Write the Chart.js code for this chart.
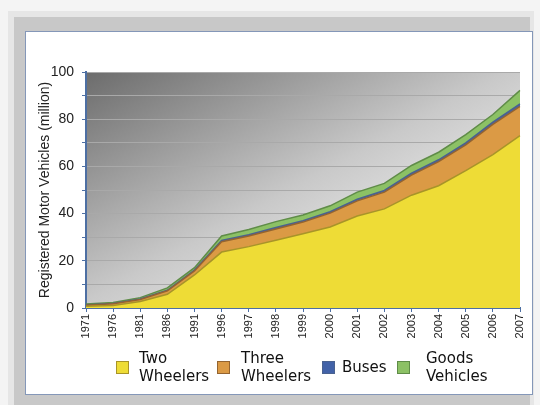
<!DOCTYPE html>
<html>
<head>
<meta charset="utf-8">
<script src="https://cdn.jsdelivr.net/npm/chart.js@4"></script>
<style>
  body { margin: 0; background: #f4f4f4; width: 540px; height: 405px; overflow: hidden; position: relative; font-family: 'DejaVu Sans', sans-serif; }
  #frame1 { position: absolute; left: 8px; top: 11px; width: 526px; height: 394px; background: #e6e6e6; }
  #frame2 { position: absolute; left: 14px; top: 17px; width: 516px; height: 388px; background: #c8c8c8; }
  #box { position: absolute; left: 25px; top: 31px; width: 506px; height: 362px; background: #fff; border: 1px solid #8497b8; }
  #myChart { position: absolute; left: 0; top: 0; }
  .leg { position: absolute; top: 349px; font-size: 15px; line-height: 18px; color: #111; }
  .sw { position: absolute; top: 361px; width: 11px; height: 11px; border: 1px solid; }
</style>
</head>
<body>
<div id="frame1"></div>
<div id="frame2"></div>
<div id="box"></div>
<canvas id="myChart" width="540" height="405"></canvas>
<div id="legend"></div>
<script>
var years = ['1971', '1976', '1981', '1986', '1991', '1996', '1997', '1998', '1999',
             '2000', '2001', '2002', '2003', '2004', '2005', '2006', '2007'];

var twoWheelers   = [0.7, 1.1, 2.8, 5.8, 14.0, 23.7, 26.0, 28.7, 31.5, 34.3, 39.0, 42.0, 47.8, 51.8, 58.2, 65.0, 73.0];
var threeWheelers = [0.5, 0.7, 0.8, 1.5, 1.7, 4.4, 4.5, 4.8, 4.9, 5.9, 6.4, 7.1, 8.5, 10.2, 10.9, 12.8, 12.4];
var buses         = [0.1, 0.1, 0.2, 0.2, 0.4, 0.5, 0.5, 0.6, 0.6, 0.6, 0.7, 0.7, 0.8, 0.8, 0.9, 1.0, 1.1];
var goodsVehicles = [0.4, 0.4, 0.6, 1.0, 1.0, 1.9, 2.3, 2.5, 2.4, 2.5, 3.0, 3.0, 3.3, 3.2, 3.5, 3.2, 5.7];

var yTicks = [0, 20, 40, 60, 80, 100];

var legendLines = [['Two', 'Wheelers'], ['Three', 'Wheelers'], ['Buses'], ['Goods', 'Vehicles']];

var narrow = "'Liberation Sans Narrow', 'Liberation Sans', Arial, sans-serif";

var data = {
    labels: years,
    datasets: [{
        label: 'Two Wheelers',
        data: twoWheelers,
        backgroundColor: '#eedc36',
        borderColor: '#a89428',
        borderWidth: 1.5,
        fill: 'origin'
    }, {
        label: 'Three Wheelers',
        data: threeWheelers,
        backgroundColor: '#db9a45',
        borderColor: '#946430',
        borderWidth: 1.5,
        fill: '-1'
    }, {
        label: 'Buses',
        data: buses,
        backgroundColor: '#4262a8',
        borderColor: '#4a6290',
        borderWidth: 1.5,
        fill: '-1'
    }, {
        label: 'Goods Vehicles',
        data: goodsVehicles,
        backgroundColor: '#8cc165',
        borderColor: '#5f8c48',
        borderWidth: 1.5,
        fill: '-1'
    }]
};

var plotBackground = {
    id: 'plotBackground',
    beforeDraw: function (chart) {
        var a = chart.chartArea;
        var ctx = chart.ctx;
        var h = a.bottom - a.top;
        var w = a.right - a.left;
        var g = ctx.createLinearGradient(a.left, a.top, a.left + h * h / w, a.bottom);
        g.addColorStop(0, '#6c6c6c');
        g.addColorStop(0.75, '#c9c9c9');
        g.addColorStop(1, '#dedede');
        ctx.save();
        ctx.fillStyle = g;
        ctx.fillRect(a.left, a.top, w, h);
        ctx.restore();
    }
};

var config = {
    type: 'line',
    data: data,
    plugins: [plotBackground],
    options: {
        responsive: false,
        animation: false,
        layout: {
            padding: { left: 26, right: 20, top: 72, bottom: 57 }
        },
        elements: {
            point: { radius: 0 },
            line: { tension: 0 }
        },
        plugins: {
            legend: { display: false },
            tooltip: { enabled: false }
        },
        scales: {
            x: {
                type: 'category',
                offset: false,
                afterFit: function (s) { s.height = 40; },
                grid: {
                    drawOnChartArea: false,
                    drawTicks: true,
                    tickLength: 4,
                    tickColor: '#4d6fa3'
                },
                border: { color: '#4d6fa3', width: 2 },
                ticks: {
                    autoSkip: false,
                    minRotation: 90,
                    maxRotation: 90,
                    padding: 2,
                    color: '#222',
                    font: { family: narrow, size: 11 }
                }
            },
            y: {
                stacked: true,
                min: 0,
                max: 100,
                afterFit: function (s) { s.width = 60; },
                grid: {
                    color: '#a9a9a9',
                    tickLength: 4,
                    tickColor: '#4d6fa3'
                },
                border: { color: '#4d6fa3', width: 2 },
                ticks: {
                    stepSize: 10,
                    padding: 8,
                    color: '#222',
                    font: { family: narrow, size: 14 },
                    callback: function (v) { return yTicks.indexOf(v) >= 0 ? v : ''; }
                },
                title: {
                    display: true,
                    text: 'Registered Motor Vehicles (million)',
                    color: '#222',
                    font: { family: narrow, size: 14 },
                    padding: { top: 11, bottom: 0 }
                }
            }
        }
    }
};

var myChart = new Chart(
    document.getElementById('myChart').getContext('2d'),
    config
);

// html legend, two-line labels like the original
var swX = [116, 217, 322, 397];
var txtX = [139, 241, 342, 426];
var legend = document.getElementById('legend');
data.datasets.forEach(function (ds, i) {
    var sw = document.createElement('div');
    sw.className = 'sw';
    sw.style.left = swX[i] + 'px';
    sw.style.background = ds.backgroundColor;
    sw.style.borderColor = ds.borderColor;
    legend.appendChild(sw);
    var t = document.createElement('div');
    t.className = 'leg';
    t.style.left = txtX[i] + 'px';
    if (legendLines[i].length === 1) t.style.top = '358px';
    t.innerHTML = legendLines[i].join('<br>');
    legend.appendChild(t);
});
</script>
</body>
</html>
